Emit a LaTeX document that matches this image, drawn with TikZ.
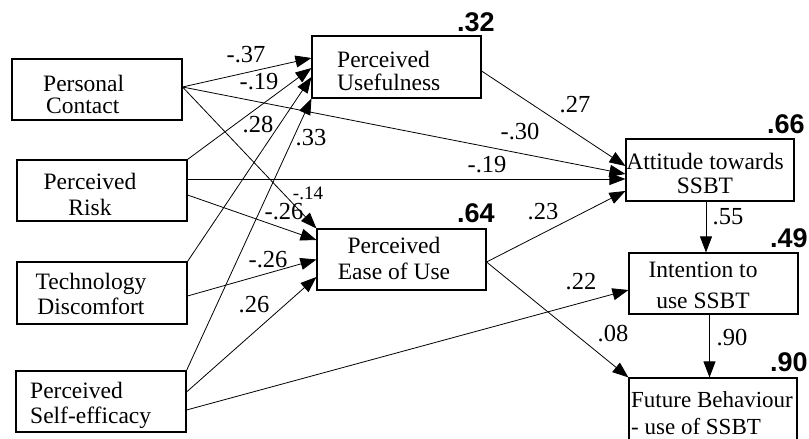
\documentclass[tikz,border=0pt]{standalone}
\usepackage{fontspec}
\setmainfont{Liberation Serif}
\newfontfamily\rfont{Liberation Sans}
\usetikzlibrary{arrows.meta}
\newcommand{\mybt}[2]{\begin{tabular}[t]{@{}#1@{}}#2\end{tabular}}
\tikzset{
  box/.style={draw=black, line width=1.1pt, inner sep=0pt, rectangle},
  txt/.style={anchor=base west, inner sep=0pt, font=\fontsize{23.5}{21}\selectfont},
  txtc/.style={anchor=base, inner sep=0pt, font=\fontsize{23.5}{21}\selectfont},
  coef/.style={anchor=base, inner sep=0pt, font=\fontsize{24.5}{24.5}\selectfont},
  coefs/.style={anchor=base, inner sep=0pt, font=\fontsize{19}{19}\selectfont},
  rsq/.style={anchor=base west, inner sep=0pt, font=\rfont\bfseries\fontsize{27}{27}\selectfont},
  conn/.style={line width=0.8pt, -{Triangle[length=16pt,width=12pt]}},
}
\begin{document}
\begin{tikzpicture}[x=1pt,y=1pt]
\clip (0,0) rectangle (809,439);
\fill[white] (0,0) rectangle (809,439);

% boxes
\node[box, minimum width=170pt, minimum height=61pt] (pc) at (97,349.5) {};
\node[box, minimum width=170pt, minimum height=61pt] (risk) at (102,248.5) {};
\node[box, minimum width=170pt, minimum height=62pt] (tech) at (102,146) {};
\node[box, minimum width=170pt, minimum height=61pt] (se) at (101,37.5) {};
\node[box, minimum width=169pt, minimum height=62pt] (pu) at (396.5,372) {};
\node[box, minimum width=169pt, minimum height=61pt] (peou) at (401.5,179.5) {};
\node[box, minimum width=168pt, minimum height=62pt] (att) at (710,269) {};
\node[box, minimum width=169pt, minimum height=61pt] (int) at (713.5,155.5) {};
\node[box, minimum width=168pt, minimum height=66pt] (fut) at (713,28) {};

% box texts
\node[txt] (pct) at (43,347) {\mybt{l}{Personal\\ \hspace{3pt}Contact}};
\node[txtc] (riskt) at (90,249) {\mybt{c}{Perceived\\[3pt] Risk}};
\node[txtc] (techt) at (91,149) {\mybt{c}{Technology\\[2pt] Discomfort}};
\node[txt] (set) at (30,40) {\mybt{l}{Perceived\\[2pt] Self-efficacy}};
\node[txt] (put) at (337,371) {\mybt{l}{Perceived\\ Usefulness}};
\node[txtc] (peout) at (394,185) {\mybt{c}{Perceived\\[3pt] Ease of Use}};
\node[txtc] (attt) at (705,269) {\mybt{c}{Attitude towards\\[2pt] SSBT}};
\node[txtc] (intt) at (703,161) {\mybt{c}{Intention to\\[9pt] use SSBT}};
\node[txt, font=\fontsize{23}{21}\selectfont] (futt) at (631,31) {\mybt{l}{Future Behaviour\\[4pt] - use of SSBT}};

% R squared
\node[rsq] (r1) at (457,407) {.32};
\node[rsq] (r2) at (457,216) {.64};
\node[rsq] (r3) at (767,305) {.66};
\node[rsq] (r4) at (770,191) {.49};
\node[rsq] (r5) at (770,67) {.90};

% connectors
\draw[conn] ([yshift=2.5pt]pc.east) -- ([yshift=9pt]pu.west);
\draw[conn] (risk.north east) -- ([yshift=-1pt]pu.west);
\draw[conn] (tech.north east) -- ([yshift=-10pt]pu.west);
\draw[conn] (se.north east) -- (pu.south west);
\draw[conn] ([yshift=2.5pt]pc.east) -- (peou.north west);
\draw[conn] ([yshift=2.5pt]pc.east) -- ([yshift=-4pt]att.west);
\draw[conn] ([yshift=11.5pt]risk.east) -- ([yshift=-9pt]att.west);
\draw[conn] ([yshift=-4.5pt]risk.east) -- ([yshift=19.5pt]peou.west);
\draw[conn] ([yshift=-3pt]tech.east) -- (peou.west);
\draw[conn] ([yshift=9.5pt]se.east) -- ([yshift=-17.5pt]peou.west);
\draw[conn] ([yshift=-8.5pt]se.east) -- ([yshift=-6.5pt]int.west);
\draw[conn] ([yshift=-4pt]pu.east) -- ([yshift=4pt]att.west);
\draw[conn] ([yshift=-2.5pt]peou.east) -- ([yshift=-21pt]att.west);
\draw[conn] ([yshift=-2.5pt]peou.east) -- (fut.north west);
\draw[conn] ([xshift=-4pt]att.south) -- ([xshift=-4pt]att.south |- int.north);
\draw[conn] ([xshift=-4pt]int.south) -- ([xshift=-4pt]int.south |- fut.north);

% coefficients
\node[coef] (c1) at (246,376) {-.37};
\node[coef] (c2) at (259,349) {-.19};
\node[coef] (c3) at (258,306) {.28};
\node[coef] (c4) at (311,293) {.33};
\node[coefs] (c5) at (308,239) {-.14};
\node[coef] (c6) at (284,219) {-.26};
\node[coef] (c7) at (268,171) {-.26};
\node[coef] (c8) at (254,126) {.26};
\node[coef] (c9) at (575,326) {.27};
\node[coef] (c10) at (520,299) {-.30};
\node[coef] (c11) at (487,266) {-.19};
\node[coef] (c12) at (543,219) {.23};
\node[coef] (c13) at (581,149) {.22};
\node[coef] (c14) at (613,97) {.08};
\node[coef] (c15) at (728,214) {.55};
\node[coef] (c16) at (732,93) {.90};
\end{tikzpicture}
\end{document}
